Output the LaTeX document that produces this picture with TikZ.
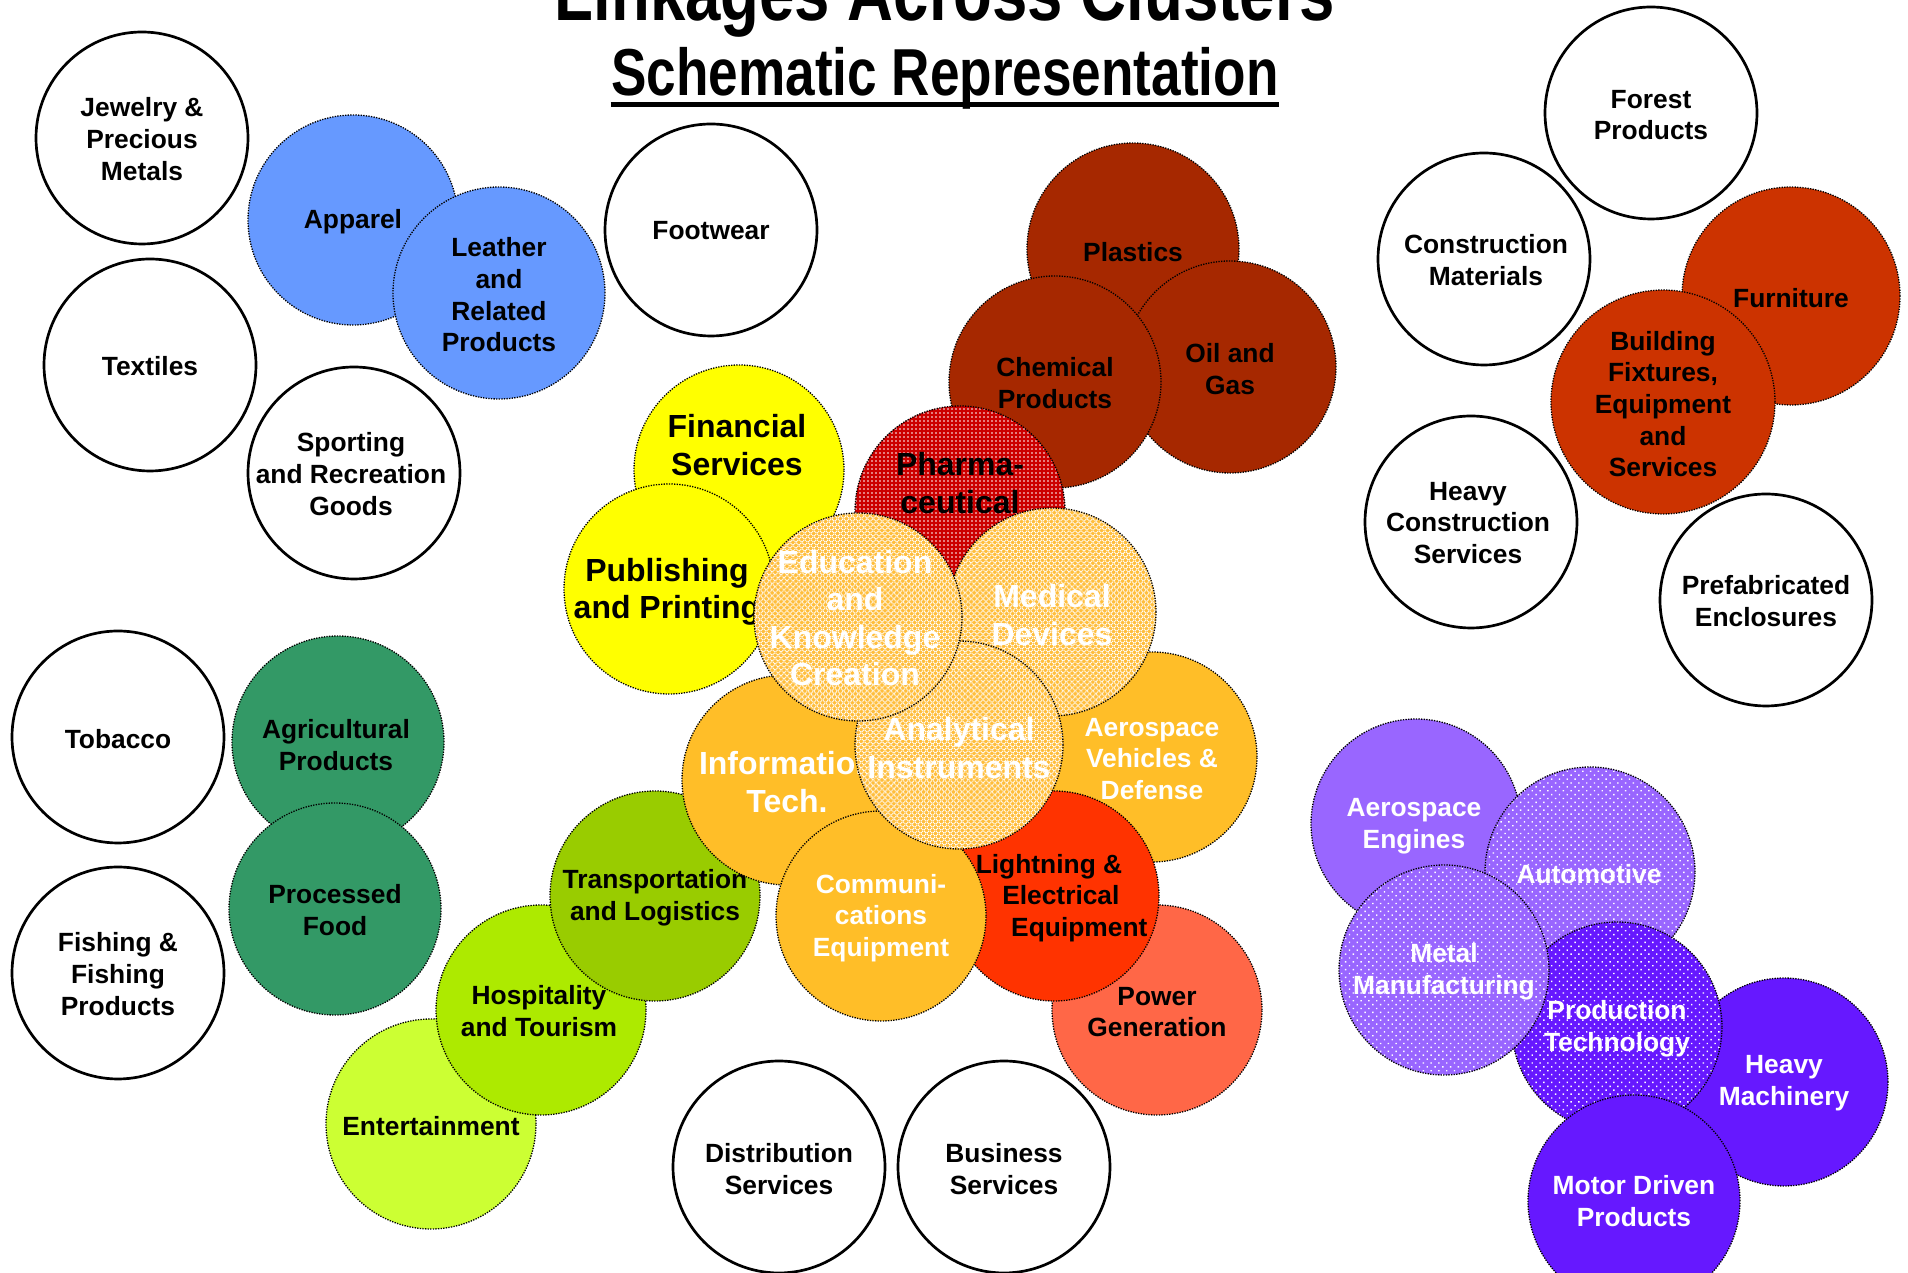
\documentclass[tikz,border=0pt]{standalone}
\usepackage{graphicx}
\usepackage{fontspec}
\setmainfont{Liberation Sans}
\usetikzlibrary{patterns,patterns.meta,calc}

\newcommand\lblfont{\fontsize{7.5}{9}\selectfont\bfseries}
\newcommand\bigfont{\fontsize{9.1}{10.7}\selectfont\bfseries}

\definecolor{cBlue}{HTML}{6699FF}
\definecolor{cYellow}{HTML}{FFFF00}
\definecolor{cPharma}{HTML}{CC0000}
\definecolor{cLightOr}{HTML}{FFBE3C}
\definecolor{cOrange}{HTML}{FFBE28}
\definecolor{cElec}{HTML}{FF3300}
\definecolor{cPower}{HTML}{FF6747}
\definecolor{cRust}{HTML}{A62800}
\definecolor{cBrick}{HTML}{CC3300}
\definecolor{cGreen}{HTML}{339966}
\definecolor{cOlive}{HTML}{99CC00}
\definecolor{cLime}{HTML}{ADEA00}
\definecolor{cPale}{HTML}{CCFF33}
\definecolor{cLilac}{HTML}{9966FF}
\definecolor{cViolet}{HTML}{6618FF}

\tikzset{
  ring/.style={circle, inner sep=0pt, minimum size=#1*0.2mm},
  plainb/.style={draw=black, line width=0.27mm, fill=white},
  dotb/.style={draw=black, line width=0.13mm, dash pattern=on 0.13mm off 0.13mm},
  solidfill/.style={dotb, fill=#1},
  dotfill/.style={dotb, preaction={fill=#1}, pattern={Dots[distance=0.55mm, radius=0.1mm, angle=45]}, pattern color=white},
  finedot/.style={dotb, preaction={fill=#1}, pattern={Dots[distance=0.4mm, radius=0.09mm]}, pattern color=white},
  hatchfill/.style={dotb, preaction={fill=#1}, pattern={Hatch[distance=0.42mm, angle=45, line width=0.09mm]}, pattern color=white},
  lbl/.style={align=center, inner sep=0pt, font=\lblfont},
  wlbl/.style={lbl, text=white},
  biglbl/.style={lbl, font=\bigfont},
  wbiglbl/.style={biglbl, text=white},
  titlefont/.style={inner sep=0pt, anchor=base, font=\fontsize{#1}{#1}\selectfont\bfseries},
}

% name, centre, radius (px), circle style, label position, label style, label text
\newcommand\bub[7]{%
  \node[ring=#3, #4] (#1) at (#2) {};
  \node[#6] (#1-t) at (#5) {#7};}

\begin{document}
\begin{tikzpicture}[x=0.1mm, y=-0.1mm]
\path[use as bounding box, fill=white] (0,0) rectangle (1908,1273);
\clip (0,0) rectangle (1908,1273);

% titles
\node[titlefont=22.6] (t1) at (945,21) {\scalebox{0.8}[1]{Linkages Across Clusters}};
\node[titlefont=18.9] (t2) at (945,96) {\scalebox{0.8}[1]{Schematic Representation}};
\draw[line width=0.5mm] ([yshift=-0.9mm]t2.base west) -- ([yshift=-0.9mm]t2.base east);

% stand-alone clusters
\bub{jewel}{142,138}{106}{plainb}{142,139}{lbl}{Jewelry \&\\Precious\\Metals}
\bub{textiles}{150,365}{106}{plainb}{150,366}{lbl}{Textiles}
\bub{footwear}{711,230}{106}{plainb}{711,231}{lbl}{Footwear}
\bub{sporting}{354,473}{106}{plainb}{351,474}{lbl}{Sporting\\and Recreation\\Goods}
\bub{tobacco}{118,737}{106}{plainb}{118,739}{lbl}{Tobacco}
\bub{fishing}{118,973}{106}{plainb}{118,974}{lbl}{Fishing \&\\Fishing\\Products}
\bub{distrib}{779,1167}{106}{plainb}{779,1169}{lbl}{Distribution\\Services}
\bub{business}{1004,1167}{106}{plainb}{1004,1169}{lbl}{Business\\Services}
\bub{forest}{1651,113}{106}{plainb}{1651,115}{lbl}{Forest\\Products}
\bub{constr}{1484,259}{106}{plainb}{1486,260}{lbl}{Construction\\Materials}
\bub{heavycon}{1471,522}{106}{plainb}{1468,523}{lbl}{Heavy\\Construction\\Services}
\bub{prefab}{1766,600}{106}{plainb}{1766,601}{lbl}{Prefabricated\\Enclosures}

% apparel group
\bub{apparel}{353,220}{105}{solidfill=cBlue}{353,222}{lbl}{Apparel}
\bub{leather}{499,293}{106}{solidfill=cBlue}{499,295}{lbl}{Leather\\and\\Related\\Products}

% food group
\bub{agri}{338,742}{106}{solidfill=cGreen}{336,745}{lbl}{Agricultural\\Products}
\bub{food}{335,909}{106}{solidfill=cGreen}{335,910}{lbl}{Processed\\Food}

% hospitality group
\bub{entert}{431,1124}{105}{solidfill=cPale}{431,1126}{lbl}{Entertainment}
\bub{hosp}{541,1010}{105}{solidfill=cLime}{539,1011}{lbl}{Hospitality\\and Tourism}
\bub{transp}{655,896}{105}{solidfill=cOlive}{655,898}{lbl}{Transportation\\and Logistics}

% building group
\bub{furniture}{1791,296}{109}{solidfill=cBrick}{1791,298}{lbl}{Furniture}
\bub{building}{1663,402}{112}{solidfill=cBrick}{1663,404}{lbl}{Building\\Fixtures,\\Equipment\\and\\Services}

% chemical group
\bub{plastics}{1133,249}{106}{solidfill=cRust}{1133,252}{lbl}{Plastics}
\bub{oil}{1230,367}{106}{solidfill=cRust}{1230,369}{lbl}{Oil and\\Gas}
\bub{chem}{1055,382}{106}{solidfill=cRust}{1055,383}{lbl}{Chemical\\Products}

% knowledge and electronics core
\bub{power}{1157,1010}{105}{solidfill=cPower}{1157,1012}{lbl}{Power\\Generation}
\bub{aerov}{1152,757}{105}{solidfill=cOrange}{1152,759}{wlbl}{Aerospace\\Vehicles \&\\Defense}
\bub{elec}{1054,896}{105}{solidfill=cElec}{1049,898}{lbl}{Lightning \&\\\hspace*{0.9em}Electrical\\\hspace*{2.3em}Equipment}
\bub{infotech}{787,780}{105}{solidfill=cOrange}{787,782}{wbiglbl}{Information\\Tech.}
\bub{comm}{881,916}{105}{solidfill=cOrange}{881,918}{wlbl}{Communi-\\cations\\Equipment}
\bub{finance}{739,470}{105}{solidfill=cYellow}{737,445}{biglbl}{Financial\\Services}
\bub{publish}{669,589}{105}{solidfill=cYellow}{667,592}{biglbl}{Publishing\\and Printing}
\bub{pharma}{960,511}{105}{finedot=cPharma}{960,483}{biglbl}{Pharma-\\ceutical}
\bub{medical}{1052,612}{104}{hatchfill=cLightOr}{1052,615}{wbiglbl}{Medical\\Devices}
\bub{analyt}{959,745}{104}{hatchfill=cLightOr}{959,748}{wbiglbl}{Analytical\\Instruments}
\bub{educ}{858,617}{104}{hatchfill=cLightOr}{855,618}{wbiglbl}{Education\\and\\Knowledge\\Creation}

% production group
\bub{aeroeng}{1416,824}{105}{solidfill=cLilac}{1414,826}{wlbl}{Aerospace\\Engines}
\bub{auto}{1590,872}{105}{dotfill=cLilac}{1589,874}{wlbl}{Automotive}
\bub{heavymach}{1784,1082}{104}{solidfill=cViolet}{1784,1083}{wlbl}{Heavy\\Machinery}
\bub{prodtech}{1617,1027}{105}{dotfill=cViolet}{1617,1029}{wlbl}{Production\\Technology}
\bub{metal}{1444,970}{105}{dotfill=cLilac}{1444,972}{wlbl}{Metal\\Manufacturing}
\bub{motor}{1634,1201}{106}{solidfill=cViolet}{1634,1201}{wlbl}{Motor Driven\\Products}
\end{tikzpicture}
\end{document}
